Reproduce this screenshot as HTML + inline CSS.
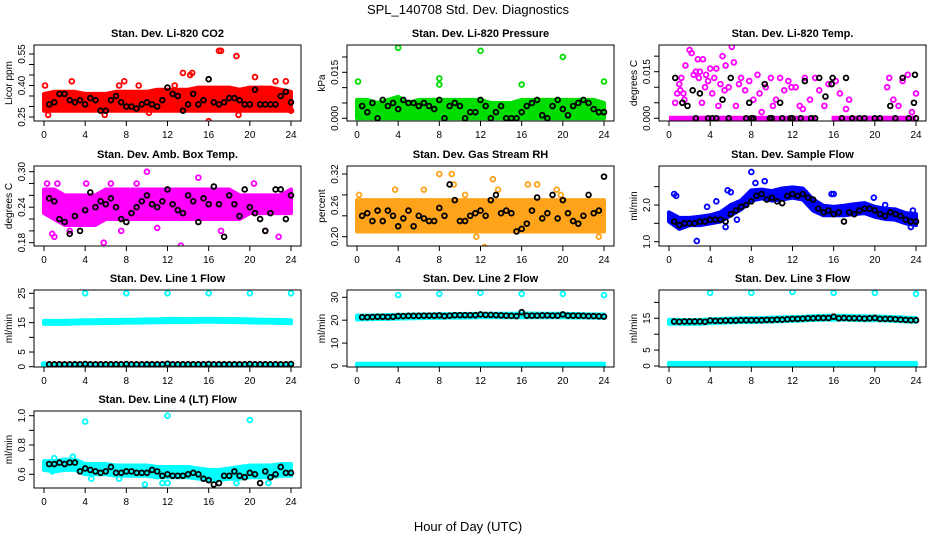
<!DOCTYPE html>
<html><head><meta charset="utf-8"><style>
html,body{margin:0;padding:0;background:#fff;}
svg{display:block;font-family:"Liberation Sans",sans-serif;}
</style></head><body>
<svg id="chart" width="936" height="540" viewBox="0 0 936 540" xmlns="http://www.w3.org/2000/svg">
<text x="468" y="14" font-size="13" text-anchor="middle">SPL_140708  Std. Dev. Diagnostics</text>
<text x="468" y="531" font-size="13" text-anchor="middle">Hour of Day (UTC)</text>
</svg>
<script>
// ---- data ----
const bandHours = [0,1,2,3,4,5,6,7,8,9,10,11,12,13,14,15,16,17,18,19,20,21,22,23,24];
const blackHours = [0.5,1,1.5,2,2.5,3,3.5,4,4.5,5,5.5,6,6.5,7,7.5,8,8.5,9,9.5,10,10.5,11,11.5,12,12.5,13,13.5,14,14.5,15,15.5,16,16.5,17,17.5,18,18.5,19,19.5,20,20.5,21,21.5,22,22.5,23,23.5,24];
const xTicks = [0,4,8,12,16,20,24];

// P1 CO2
const co2Lo = [0.28,0.28,0.28,0.28,0.28,0.28,0.28,0.28,0.28,0.28,0.28,0.28,0.28,0.28,0.28,0.28,0.28,0.28,0.28,0.28,0.28,0.28,0.28,0.28,0.28];
const co2Hi = [0.36,0.37,0.37,0.37,0.36,0.36,0.36,0.37,0.37,0.37,0.37,0.38,0.38,0.38,0.38,0.39,0.39,0.39,0.39,0.38,0.39,0.39,0.39,0.38,0.37];
const co2OutH = [0.1,0.4,2.7,7.8,7.3,9.2,13.5,14.2,14.4,16,17,17.2,18.7,18.9,20.5,22.5,23.5,24,5.9,12.7,10.2];
const co2OutV = [0.40,0.26,0.42,0.42,0.40,0.40,0.46,0.45,0.46,0.23,0.565,0.565,0.54,0.26,0.44,0.42,0.42,0.28,0.26,0.40,0.27];
const co2Black = [0.31,0.32,0.36,0.36,0.33,0.32,0.33,0.31,0.34,0.33,0.28,0.28,0.33,0.35,0.32,0.30,0.30,0.29,0.31,0.32,0.31,0.30,0.33,0.39,0.36,0.35,0.28,0.31,0.36,0.31,0.33,0.43,0.32,0.31,0.32,0.34,0.34,0.33,0.31,0.31,0.38,0.31,0.31,0.31,0.31,0.35,0.37,0.32];

// P2 Pressure
const prLo = [0,0,0,0,0,0,0,0,0,0,0,0,0,0,0,0,0,0,0,0,0,0,0,0,0];
const prHi = [0.006,0.006,0.005,0.006,0.007,0.005,0.006,0.006,0.006,0.006,0.006,0.006,0.006,0.005,0.005,0.005,0.006,0.006,0.006,0.006,0.006,0.006,0.006,0.006,0.005];
const prOutH = [0.1,4,8,8,12,16,20,24,3.5];
const prOutV = [0.012,0.023,0.013,0.011,0.022,0.011,0.020,0.012,0.001];
const prBlack = [0.004,0.002,0.005,0,0.006,0.004,0.005,0.003,0.006,0.005,0.005,0.004,0.005,0.004,0.003,0.006,0,0.004,0.005,0.004,0,0.002,0.002,0.006,0.004,0,0.002,0.004,0,0,0,0.002,0.004,0.005,0.006,0.001,0,0.004,0.006,0.003,0.001,0.004,0.005,0.006,0.005,0.003,0.002,0.002];

// P3 Temp
const tmpZeroStart = [0,15.8];
const tmpZeroEnd = [14.3,24];
const tmpH = [0.6,0.8,1,1.2,1.4,1.5,1.6,2,2.2,2.4,2.6,2.8,3,3.3,3.5,3.8,4,4.2,4.4,4.6,4.8,5,5.2,5.5,5.8,6.1,6.3,6.5,7,7.4,7.8,8.2,8.6,9,9.4,9.9,10.4,10.8,11.2,11.6,12.3,12.7,13.2,13.7,14.2,14.6,15.1,15.5,16.2,16.6,17.2,17.5,21.2,21.4,21.8,22.3,22.7,23.2,23.6,24,3.2,3.6,5.4,6.8,8.8,10.1,11.9,13,1.1,2.9];
const tmpV = [0.005,0.008,0.011,0.013,0.008,0.006,0.017,0.022,0.021,0.014,0.015,0.019,0.015,0.019,0.010,0.012,0.016,0.008,0.013,0.016,0.004,0.011,0.020,0.017,0.010,0.023,0.018,0.004,0.013,0.009,0.012,0.006,0.014,0.002,0.010,0.013,0.006,0.013,0.009,0.012,0.010,0.004,0.013,0.006,0.013,0.009,0.004,0.011,0.012,0.008,0.003,0.006,0.010,0.013,0.006,0.004,0.012,0.014,0.002,0.008,0.005,0.014,0.009,0.011,0.008,0.004,0.010,0.003,0.009,0.013];
const tmpBH = [0.6,1.3,1.8,2.3,3,3.8,4.2,5.2,6,7.8,7.5,9.3,10,10.8,12,13.2,14.2,14.6,15.2,15.8,15.9,17.2,17.8,19,20,21.5,22.7,23.8,23.9,24,16.8,18.5,20.5,22,23.3,2.6,4.6,5.8,8,8.2,9.8,11,11.8,12.8,13.8];
const tmpBV = [0.013,0.005,0.004,0.009,0.008,0,0,0.006,0.013,0.005,0,0.011,0,0.005,0,0.012,0,0.013,0.007,0.011,0.013,0.013,0,0,0,0.004,0.013,0.005,0.014,0,0,0,0,0,0,0,0,0,0,0,0,0,0,0,0];

// P4 Amb box temp
const ambLo = [0.23,0.22,0.21,0.21,0.21,0.21,0.22,0.22,0.22,0.22,0.22,0.22,0.22,0.22,0.22,0.22,0.22,0.22,0.22,0.22,0.23,0.23,0.23,0.23,0.23];
const ambHi = [0.27,0.27,0.26,0.26,0.26,0.26,0.27,0.27,0.27,0.27,0.27,0.27,0.27,0.27,0.27,0.27,0.27,0.27,0.27,0.26,0.26,0.26,0.26,0.26,0.27];
const ambOutH = [0.3,1.3,4.1,5.8,6.5,9,10,13.3,15,19,20.4,22.8,0.8,1,2.5,7.5,11,17.2,21.5];
const ambOutV = [0.28,0.28,0.28,0.18,0.28,0.28,0.30,0.175,0.29,0.165,0.28,0.19,0.195,0.19,0.20,0.20,0.205,0.20,0.20];
const ambBlack = [0.255,0.25,0.22,0.215,0.195,0.225,0.20,0.235,0.265,0.24,0.25,0.245,0.255,0.24,0.22,0.215,0.23,0.24,0.25,0.26,0.245,0.24,0.25,0.27,0.245,0.235,0.23,0.26,0.25,0.215,0.255,0.245,0.275,0.245,0.19,0.26,0.245,0.225,0.27,0.24,0.23,0.22,0.20,0.23,0.27,0.27,0.22,0.26];

// P5 RH
const rhLo = [0.21,0.21,0.21,0.21,0.21,0.21,0.21,0.21,0.21,0.21,0.21,0.21,0.21,0.21,0.21,0.21,0.21,0.21,0.21,0.21,0.21,0.21,0.21,0.21,0.21];
const rhHi = [0.27,0.27,0.27,0.27,0.27,0.27,0.27,0.27,0.27,0.27,0.27,0.27,0.27,0.27,0.27,0.27,0.27,0.27,0.27,0.27,0.27,0.27,0.27,0.27,0.27];
const rhOutH = [0.2,3.7,8,9.2,9.4,11.6,12.4,13.2,13.7,16.6,17.5,19.4,19.8,23.5,6.5,10.5];
const rhOutV = [0.28,0.29,0.32,0.32,0.30,0.20,0.18,0.31,0.29,0.30,0.30,0.29,0.28,0.20,0.29,0.28];
const rhBlack = [0.24,0.245,0.23,0.25,0.23,0.25,0.24,0.22,0.235,0.25,0.22,0.24,0.235,0.23,0.23,0.255,0.24,0.30,0.27,0.23,0.23,0.24,0.245,0.25,0.24,0.27,0.28,0.245,0.25,0.245,0.21,0.215,0.225,0.25,0.275,0.235,0.245,0.28,0.235,0.27,0.245,0.23,0.225,0.24,0.28,0.245,0.25,0.315];

// P6 Sample flow
const sfLo = [1.55,1.35,1.45,1.45,1.5,1.55,1.72,1.88,2.12,2.18,2.12,2.15,2.2,2.15,1.85,1.72,1.72,1.72,1.75,1.78,1.68,1.62,1.6,1.5,1.45];
const sfHi = [1.8,1.65,1.65,1.68,1.72,1.8,2.0,2.12,2.4,2.42,2.38,2.45,2.48,2.45,2.15,1.98,1.95,1.98,2.02,2.05,1.95,1.9,1.88,1.78,1.75];
const sfOutH = [0.5,0.7,2.7,3.7,4.6,5.5,5.7,6,6.6,8,8.4,9.3,13.2,15.8,16,19.9,21,23.7,23.5];
const sfOutV = [2.3,2.25,1.02,1.95,2.1,1.4,2.4,2.35,1.6,2.9,2.6,2.65,2.35,2.3,2.3,2.2,2.0,1.85,1.4];
const sfBlack = [1.55,1.45,1.5,1.5,1.5,1.55,1.55,1.6,1.6,1.6,1.55,1.75,1.85,1.95,2.0,2.1,2.25,2.3,2.15,2.2,2.1,2.05,2.25,2.3,2.25,2.3,2.2,2.15,1.9,1.8,1.85,1.75,1.8,1.55,1.8,1.75,1.85,1.9,1.9,1.85,1.75,1.7,1.8,1.75,1.7,1.6,1.55,1.55];

// P7 Line1
const l1Lo = [14.6,14.6,14.6,14.7,14.8,14.8,14.9,14.9,15.0,15.0,15.1,15.1,15.2,15.2,15.2,15.3,15.3,15.3,15.2,15.2,15.1,15.0,15.0,14.9,14.8];
const l1Hi = [15.6,15.6,15.6,15.7,15.8,15.8,15.9,15.9,16.0,16.0,16.1,16.1,16.3,16.3,16.2,16.3,16.3,16.3,16.2,16.2,16.1,16.0,16.0,15.9,15.8];
const l1ZeroLo = [0.8,0.8,0.8,0.8,0.8,0.8,0.8,0.8,0.8,0.8,0.8,0.8,0.8,0.8,0.8,0.8,0.8,0.8,0.8,0.8,0.8,0.8,0.8,0.8,0.8];
const l1ZeroHi = [0.8,0.8,0.8,0.8,0.8,0.8,0.8,0.8,0.8,0.8,0.8,0.8,0.8,0.8,0.8,0.8,0.8,0.8,0.8,0.8,0.8,0.8,0.8,0.8,0.8];
const l1OutH = [4,8,12,16,20,24,0];
const l1OutV = [25,25,25,25,25,25,0.8];
const l1Black = [0.8,0.8,0.8,0.8,0.8,0.8,0.8,0.9,0.8,0.8,0.8,0.8,0.8,0.8,0.8,0.9,0.8,0.8,0.8,0.8,0.8,0.8,0.8,1.0,0.8,0.8,0.8,0.8,0.8,0.8,0.8,0.9,0.8,0.8,0.8,0.8,0.8,0.8,0.8,0.9,0.8,0.8,0.8,0.8,0.8,0.8,0.8,0.9];

// P8 Line2
const l2Lo = [20.3,20.4,20.5,20.6,20.7,20.8,20.9,21.0,21.0,21.1,21.1,21.2,21.3,21.3,21.3,21.3,21.3,21.3,21.3,21.3,21.3,21.2,21.2,21.1,21.0];
const l2Hi = [22.0,22.0,22.1,22.2,22.3,22.4,22.5,22.5,22.6,22.6,22.7,22.7,22.8,22.8,22.8,22.8,22.9,22.9,22.8,22.8,22.8,22.7,22.6,22.5,22.5];
const l2ZeroLo = [0.3,0.3,0.3,0.3,0.3,0.3,0.3,0.3,0.3,0.3,0.3,0.3,0.3,0.3,0.3,0.3,0.3,0.3,0.3,0.3,0.3,0.3,0.3,0.3,0.3];
const l2ZeroHi = [1.0,1.0,1.0,1.0,1.0,1.0,1.0,1.0,1.0,1.0,1.0,1.0,1.0,1.0,1.0,1.0,1.0,1.0,1.0,1.0,1.0,1.0,1.0,1.0,1.0];
const l2OutH = [4,8,12,16,20,24];
const l2OutV = [31,31.5,32,31.5,31.5,31];
const l2Black = [21.3,21.3,21.4,21.5,21.5,21.4,21.5,21.8,21.8,21.9,21.9,21.9,22.0,22.0,22.0,22.1,21.8,22.0,22.2,22.2,22.2,22.2,22.2,22.5,22.3,22.3,22.2,22.1,22.0,21.9,21.8,23.5,22.0,22.0,22.0,22.1,22.1,22.0,22.0,22.5,22.0,22.0,22.0,21.9,21.8,21.8,21.7,21.6];

// P9 Line3
const l3Lo = [13.3,13.3,13.2,13.3,13.5,13.6,13.7,13.8,13.8,13.9,14.0,14.1,14.2,14.3,14.5,14.6,14.6,14.6,14.5,14.4,14.4,14.3,14.2,14.0,13.9];
const l3Hi = [14.5,14.5,14.4,14.5,14.7,14.8,14.9,15.0,15.0,15.1,15.2,15.3,15.4,15.5,15.7,15.8,15.8,15.8,15.7,15.6,15.6,15.5,15.4,15.2,15.1];
const l3ZeroLo = [0.3,0.3,0.3,0.3,0.3,0.3,0.3,0.3,0.3,0.3,0.3,0.3,0.3,0.3,0.3,0.3,0.3,0.3,0.3,0.3,0.3,0.3,0.3,0.3,0.3];
const l3ZeroHi = [1.0,1.0,1.0,1.0,1.0,1.0,1.0,1.0,1.0,1.0,1.0,1.0,1.0,1.0,1.0,1.0,1.0,1.0,1.0,1.0,1.0,1.0,1.0,1.0,1.0];
const l3OutH = [4,8,12,16,20,24];
const l3OutV = [23,23,23.3,23,23,22.7];
const l3Black = [14.0,13.9,14.0,14.0,14.0,14.0,13.9,14.3,14.2,14.2,14.3,14.3,14.3,14.4,14.4,14.4,14.4,14.4,14.5,14.5,14.6,14.6,14.7,14.8,14.8,14.9,15.0,15.0,15.1,15.1,15.1,15.5,15.0,15.1,15.0,15.0,15.0,14.9,15.0,15.1,14.8,14.8,14.8,14.7,14.6,14.5,14.4,14.4];

// P10 Line4
const l4Lo = [0.63,0.62,0.63,0.63,0.60,0.60,0.60,0.59,0.59,0.59,0.59,0.58,0.58,0.58,0.58,0.57,0.56,0.56,0.57,0.57,0.58,0.58,0.58,0.59,0.59];
const l4Hi = [0.69,0.69,0.70,0.70,0.67,0.67,0.67,0.66,0.66,0.66,0.66,0.65,0.65,0.65,0.65,0.64,0.63,0.63,0.64,0.65,0.66,0.66,0.66,0.67,0.67];
const l4OutH = [4,12,20,9.8,2.8,1,11.5,12,21.8,18.7,0.8,7.3,4.6];
const l4OutV = [0.96,1.0,0.97,0.53,0.72,0.71,0.54,0.54,0.54,0.54,0.62,0.57,0.57];
const l4Black = [0.67,0.67,0.68,0.67,0.68,0.68,0.62,0.64,0.63,0.62,0.61,0.62,0.65,0.61,0.61,0.62,0.62,0.61,0.61,0.61,0.63,0.62,0.59,0.60,0.59,0.59,0.59,0.60,0.61,0.60,0.57,0.56,0.53,0.54,0.59,0.59,0.62,0.59,0.58,0.61,0.60,0.54,0.62,0.58,0.60,0.65,0.61,0.61];

// ---- layout / rendering ----
const svg = document.getElementById('chart');
const NS = 'http://www.w3.org/2000/svg';
const colLeft = [34, 347, 659];
const rowTop = [45, 166, 290, 411];
const rowBot = [121, 246, 367, 488];
const W = 267;

function mk(tag, attrs, parent) {
  const e = document.createElementNS(NS, tag);
  for (const k in attrs) e.setAttribute(k, attrs[k]);
  (parent || svg).appendChild(e);
  return e;
}

function panel(p) {
  const L = colLeft[p.col], T = rowTop[p.row], B = rowBot[p.row];
  const g = mk('g', {});
  
  
  const x = h => L + 10 + h * (247 / 24);
  const y = v => p.cal[1] + (v - p.cal[0]) * (p.cal[3] - p.cal[1]) / (p.cal[2] - p.cal[0]);

  const t = mk('text', {x: L + W / 2, y: T - 8, 'font-size': 11, 'font-weight': 'bold', 'text-anchor': 'middle'}, g);
  t.textContent = p.title;
  
  

  const clipId = 'clip-' + p.name;
  const cp = mk('clipPath', {id: clipId}, g);
  mk('rect', {x: L, y: T, width: W, height: B - T}, cp);
  const plot = mk('g', {'clip-path': 'url(#' + clipId + ')'}, g);

  function band(lo, hi, color, nm) {
    let d = '';
    bandHours.forEach((h, i) => { d += (i ? 'L' : 'M') + x(h) + ',' + y(hi[i]); });
    for (let i = bandHours.length - 1; i >= 0; i--) d += 'L' + x(bandHours[i]) + ',' + y(lo[i]);
    const b = mk('path', {d: d + 'Z', fill: color, stroke: color, 'stroke-width': 4, 'stroke-linejoin': 'round'}, plot);
    
    
  }
  function pts(hs, vs, color, nm) {
    hs.forEach((h, i) => {
      const c = mk('circle', {cx: x(h), cy: y(vs[i]), r: 2.4, fill: 'none', stroke: color, 'stroke-width': 1.8}, plot);
      
      
    });
  }
  if (p.lo) band(p.lo, p.hi, p.color, p.name + '-band');
  if (p.zlo) band(p.zlo, p.zhi, p.color, p.name + '-zero-band');
  if (p.zs) p.zs.forEach((s, i) => {
    const l = mk('line', {x1: x(s), x2: x(p.ze[i]), y1: y(0), y2: y(0), stroke: p.color, 'stroke-width': 5}, plot);
    
    
  });
  pts(p.oh, p.ov, p.color, p.name + '-point');
  pts(p.bh, p.bv, '#000', p.name + '-hourly-point');

  const box = mk('rect', {x: L, y: T, width: W, height: B - T, fill: 'none', stroke: '#000', 'stroke-width': 1}, g);
  
  

  xTicks.forEach(v => {
    mk('line', {x1: x(v), x2: x(v), y1: B, y2: B + 5, stroke: '#000'}, g);
    const tl = mk('text', {x: x(v), y: B + 17, 'font-size': 10, 'text-anchor': 'middle'}, g);
    tl.textContent = v;
    
    
  });
  p.yt.forEach(v => { mk('line', {x1: L - 5, x2: L, y1: y(v), y2: y(v), stroke: '#000'}, g); });
  p.yl.forEach(v => {
    const yy = y(v);
    const tl = mk('text', {x: L - 9, y: yy, 'font-size': 10, 'text-anchor': 'middle', transform: 'rotate(-90 ' + (L - 9) + ' ' + yy + ')'}, g);
    tl.textContent = v.toFixed(p.dec);
    
    
  });
  const ym = (T + B) / 2;
  const yt = mk('text', {x: L - 22, y: ym, 'font-size': 10, 'text-anchor': 'middle', transform: 'rotate(-90 ' + (L - 22) + ' ' + ym + ')'}, g);
  yt.textContent = p.ytitle;
  
  
}

panel({name:'co2', title:'Stan. Dev. Li-820 CO2', col:0, row:0, cal:[0.55,54,0.25,117], color:'#ff0000', lo:co2Lo, hi:co2Hi, oh:co2OutH, ov:co2OutV, bh:blackHours, bv:co2Black, yt:[0.25,0.30,0.35,0.40,0.45,0.50,0.55], yl:[0.25,0.40,0.55], dec:2, ytitle:'Licor ppm'});
panel({name:'pressure', title:'Stan. Dev. Li-820 Pressure', col:1, row:0, cal:[0.015,72.3,0,118.3], color:'#00dd00', lo:prLo, hi:prHi, oh:prOutH, ov:prOutV, bh:blackHours, bv:prBlack, yt:[0,0.005,0.010,0.015,0.020], yl:[0,0.015], dec:3, ytitle:'kPa'});
panel({name:'li820-temp', title:'Stan. Dev. Li-820 Temp.', col:2, row:0, cal:[0.015,71.7,0,118.3], color:'#ff00ff', zs:tmpZeroStart, ze:tmpZeroEnd, oh:tmpH, ov:tmpV, bh:tmpBH, bv:tmpBV, yt:[0,0.005,0.010,0.015,0.020], yl:[0,0.015], dec:3, ytitle:'degrees C'});
panel({name:'amb-box-temp', title:'Stan. Dev. Amb. Box Temp.', col:0, row:1, cal:[0.30,171.7,0.18,242.7], color:'#ff00ff', lo:ambLo, hi:ambHi, oh:ambOutH, ov:ambOutV, bh:blackHours, bv:ambBlack, yt:[0.18,0.20,0.22,0.24,0.26,0.28,0.30], yl:[0.18,0.24,0.30], dec:2, ytitle:'degrees C'});
panel({name:'gas-rh', title:'Stan. Dev. Gas Stream RH', col:1, row:1, cal:[0.32,174,0.20,236.7], color:'#ffa31a', lo:rhLo, hi:rhHi, oh:rhOutH, ov:rhOutV, bh:blackHours, bv:rhBlack, yt:[0.20,0.24,0.28,0.32], yl:[0.20,0.26,0.32], dec:2, ytitle:'percent'});
panel({name:'sample-flow', title:'Stan. Dev. Sample Flow', col:2, row:1, cal:[2.0,205,1.0,241.7], color:'#0000ff', lo:sfLo, hi:sfHi, oh:sfOutH, ov:sfOutV, bh:blackHours, bv:sfBlack, yt:[1.0,1.5,2.0,2.5], yl:[1.0,2.0], dec:1, ytitle:'ml/min'});
panel({name:'line1-flow', title:'Stan. Dev. Line 1 Flow', col:0, row:2, cal:[25,293.3,0,366.7], color:'#00ffff', lo:l1Lo, hi:l1Hi, zlo:l1ZeroLo, zhi:l1ZeroHi, oh:l1OutH, ov:l1OutV, bh:blackHours, bv:l1Black, yt:[0,5,10,15,20,25], yl:[0,5,15,25], dec:0, ytitle:'ml/min'});
panel({name:'line2-flow', title:'Stan. Dev. Line 2 Flow', col:1, row:2, cal:[30,297.3,0,366], color:'#00ffff', lo:l2Lo, hi:l2Hi, zlo:l2ZeroLo, zhi:l2ZeroHi, oh:l2OutH, ov:l2OutV, bh:blackHours, bv:l2Black, yt:[0,10,20,30], yl:[0,10,20,30], dec:0, ytitle:'ml/min'});
panel({name:'line3-flow', title:'Stan. Dev. Line 3 Flow', col:2, row:2, cal:[15,318.3,0,366], color:'#00ffff', lo:l3Lo, hi:l3Hi, zlo:l3ZeroLo, zhi:l3ZeroHi, oh:l3OutH, ov:l3OutV, bh:blackHours, bv:l3Black, yt:[0,5,10,15,20], yl:[0,5,15], dec:0, ytitle:'ml/min'});
panel({name:'line4-flow', title:'Stan. Dev. Line 4 (LT) Flow', col:0, row:3, cal:[1.0,415.7,0.6,474.3], color:'#00ffff', lo:l4Lo, hi:l4Hi, oh:l4OutH, ov:l4OutV, bh:blackHours, bv:l4Black, yt:[0.6,0.7,0.8,0.9,1.0], yl:[0.6,0.8,1.0], dec:1, ytitle:'ml/min'});
</script>
</body></html>
